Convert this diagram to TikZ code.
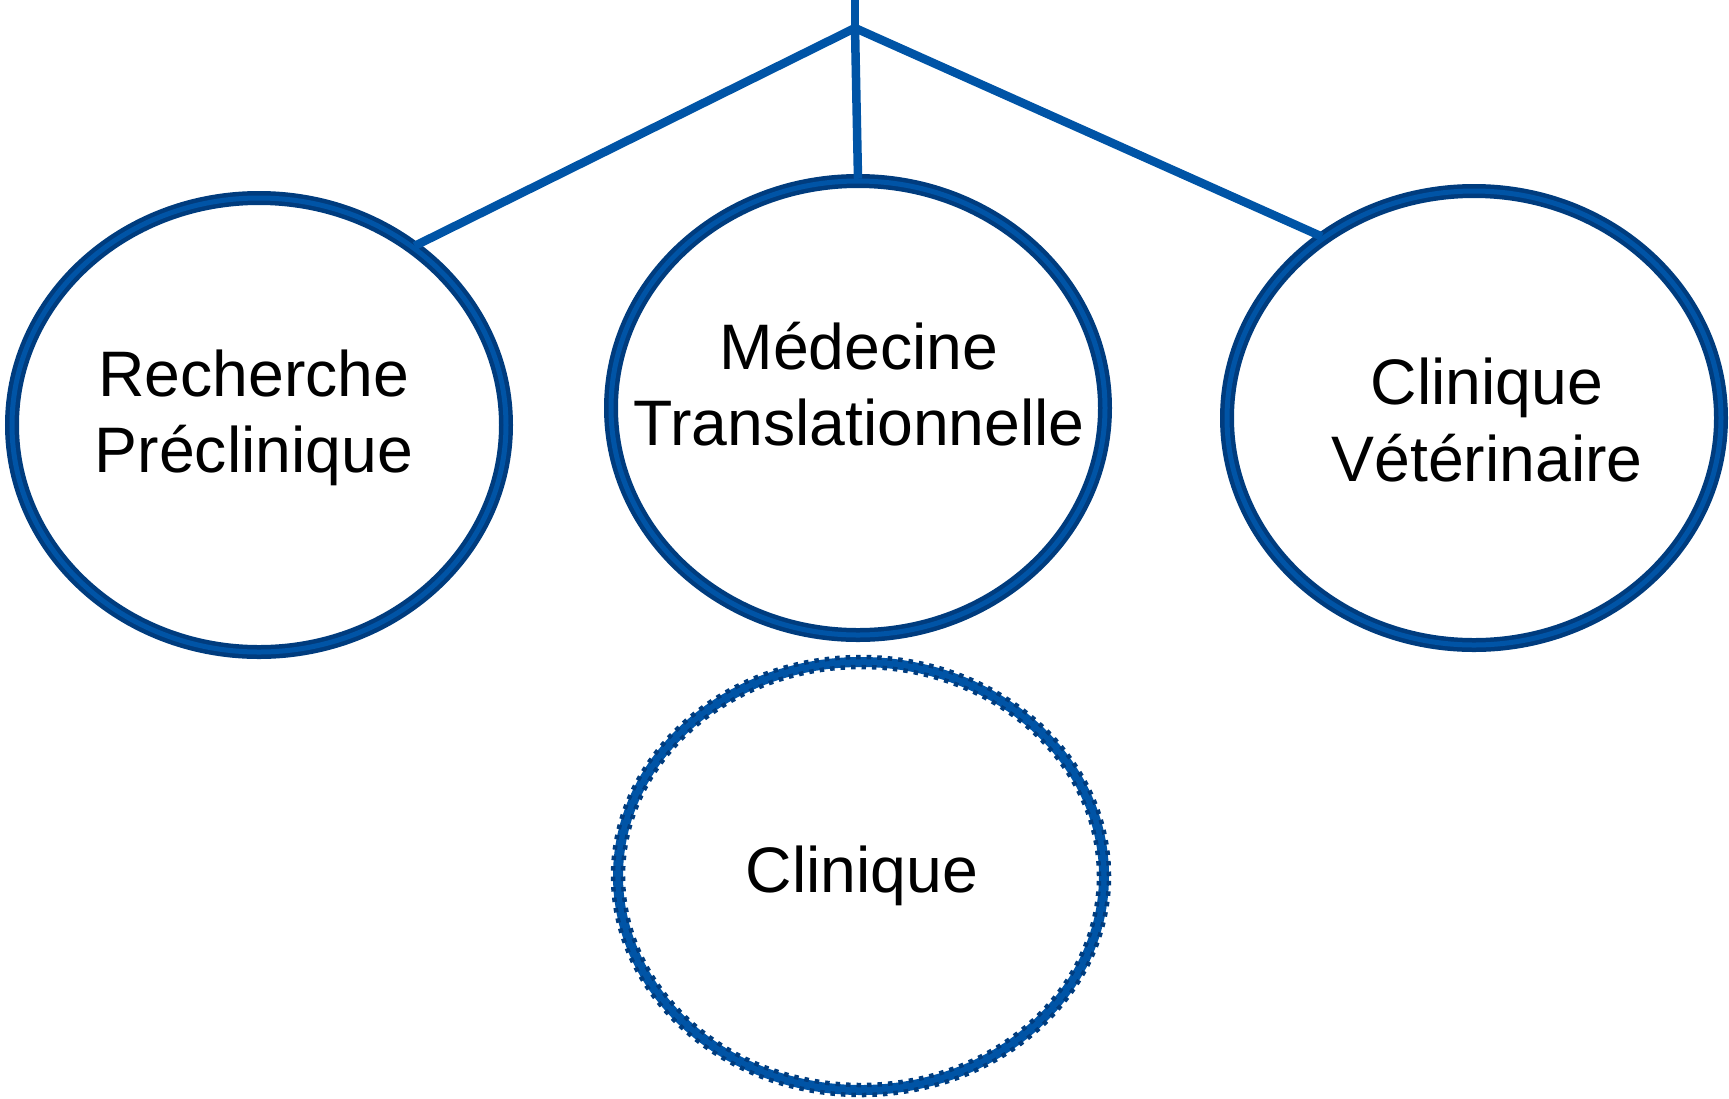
\documentclass[tikz,border=0pt]{standalone}
\usepackage{fontspec}
\setmainfont{Liberation Sans}
\usetikzlibrary{shapes.geometric}
\definecolor{bluedark}{HTML}{003C7E}
\definecolor{bluelight}{HTML}{0054A6}
\tikzset{
  oval/.style={ellipse,draw=bluedark,line width=0.09cm,double=bluelight,
    double distance=0.1cm,minimum width=9.88cm,minimum height=9.08cm,inner sep=0pt},
  dotoval/.style={ellipse,draw=bluelight,line width=0.2cm,
    minimum width=9.72cm,minimum height=8.56cm,inner sep=0pt},
  dots/.style={draw=bluedark,line width=0.09cm,dash pattern=on 0.09cm off 0.12cm},
  link/.style={draw=bluelight,line width=0.17cm},
  lbl/.style={align=center,font=\fontsize{36.6}{43.5}\selectfont}
}
\begin{document}
\begin{tikzpicture}
\useasboundingbox (0,0) rectangle (34.58,-21.96);
\path
    (5.18,-8.50) node [oval] (pre) {}
    (17.16,-8.16) node [oval] (med) {}
    (29.48,-8.36) node [oval] (vet) {}
    (17.22,-17.52) node [dotoval] (clin) {};
% dotted rims of the lower ellipse
\draw [dots] (clin.center) ellipse [x radius=4.96cm,y radius=4.38cm];
\draw [dots] (clin.center) ellipse [x radius=4.76cm,y radius=4.18cm];
\path
    (5.08,-8.36) node [lbl] (pretext) {Recherche\\Préclinique}
    (17.18,-7.68) node [lbl] (medtext) {Médecine\\Translationnelle}
    (29.74,-8.40) node [lbl] (vettext) {Clinique\\Vétérinaire}
    (17.24,-17.51) node [lbl] (clintext) {Clinique};
\coordinate (top) at (17.10,0);
\coordinate (hub) at (17.10,-0.56);
\draw [link] (top) -- (hub);
\draw [link] (hub) -- (pre.49);
\draw [link] (hub) -- (med.north);
\draw [link] (hub) -- (vet.130);
\end{tikzpicture}
\end{document}
